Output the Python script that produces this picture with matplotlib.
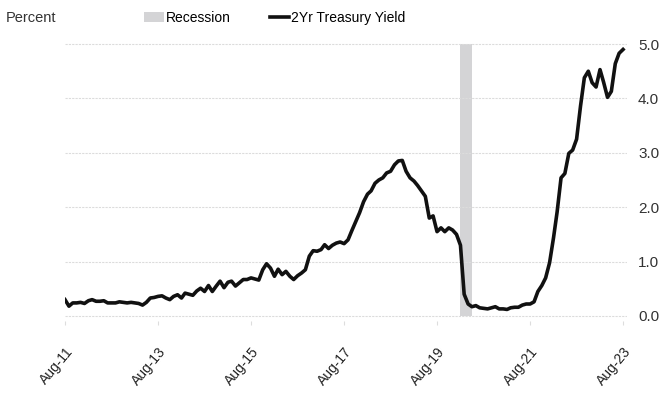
import matplotlib
matplotlib.use("Agg")
import matplotlib.pyplot as plt
from matplotlib.patches import Patch
from matplotlib.lines import Line2D
import pandas as pd

plt.rcParams['font.family'] = ['Liberation Sans', 'DejaVu Sans']

# 2-year Treasury yield, monthly, Aug 2011 - Aug 2023 (percent)
y2011 = [0.30, 0.18, 0.24, 0.24, 0.25]
y2012 = [0.23, 0.28, 0.30, 0.27, 0.27, 0.28, 0.24, 0.24, 0.24, 0.26, 0.25, 0.24]
y2013 = [0.25, 0.24, 0.23, 0.20, 0.25, 0.33, 0.34, 0.36, 0.37, 0.33, 0.30, 0.36]
y2014 = [0.39, 0.33, 0.42, 0.40, 0.38, 0.46, 0.51, 0.45, 0.56, 0.45, 0.55, 0.64]
y2015 = [0.52, 0.62, 0.64, 0.55, 0.61, 0.67, 0.67, 0.70, 0.68, 0.66, 0.85, 0.96]
y2016 = [0.88, 0.73, 0.86, 0.76, 0.82, 0.73, 0.67, 0.74, 0.79, 0.85, 1.10, 1.20]
y2017 = [1.19, 1.22, 1.31, 1.24, 1.30, 1.34, 1.36, 1.33, 1.40, 1.57, 1.74, 1.90]
y2018 = [2.10, 2.24, 2.30, 2.44, 2.50, 2.54, 2.63, 2.66, 2.78, 2.85, 2.86, 2.66]
y2019 = [2.54, 2.48, 2.40, 2.30, 2.20, 1.80, 1.84, 1.55, 1.62, 1.55, 1.62, 1.58]
y2020 = [1.50, 1.30, 0.40, 0.22, 0.17, 0.19, 0.15, 0.14, 0.13, 0.15, 0.17, 0.13]
y2021 = [0.13, 0.12, 0.15, 0.16, 0.16, 0.20, 0.22, 0.22, 0.26, 0.45, 0.56, 0.70]
y2022 = [0.98, 1.44, 1.91, 2.54, 2.62, 2.99, 3.05, 3.25, 3.86, 4.38, 4.50, 4.29]
y2023 = [4.21, 4.53, 4.30, 4.02, 4.13, 4.64, 4.83, 4.90]

yields = y2011 + y2012 + y2013 + y2014 + y2015 + y2016 + y2017 + y2018 + y2019 + y2020 + y2021 + y2022 + y2023
dates = pd.date_range('2011-08-01', periods=len(yields), freq='MS')

rec_start = pd.Timestamp('2020-02-01')
rec_end = pd.Timestamp('2020-04-30')

tick_dates = pd.date_range('2011-08-01', '2023-08-01', freq='24MS')
tick_labels = ['Aug-11', 'Aug-13', 'Aug-15', 'Aug-17', 'Aug-19', 'Aug-21', 'Aug-23']
y_ticks = [0, 1, 2, 3, 4, 5]

fig = plt.figure(figsize=(6.71, 4.0), dpi=100)
ax = fig.add_axes([65 / 671, 0.1965, (627 - 65) / 671, 0.707])

ax.fill_between([rec_start, rec_end], 0, 5, color='#d4d4d6', linewidth=0, zorder=1)
ax.plot(dates, yields, color='#111111', linewidth=2.6, zorder=3, solid_joinstyle='round')

ax.set_xlim(pd.Timestamp('2011-08-01'), pd.Timestamp('2023-09-01'))
ax.set_ylim(-0.1, 5.1)

ax.set_yticks(y_ticks)
ax.set_yticklabels([f'{v:.1f}' for v in y_ticks])
ax.yaxis.tick_right()
ax.tick_params(axis='y', length=0, pad=8, labelsize=11, labelcolor='#333333')
ax.grid(axis='y', color='#dcdcdc', linewidth=0.8, linestyle=(0, (2, 1)), zorder=0)

ax.set_xticks(tick_dates)
ax.set_xticklabels(tick_labels, rotation=50, ha='right', rotation_mode='anchor')
ax.tick_params(axis='x', length=3, color='#dddddd', pad=14, labelsize=10, labelcolor='#222222')

for s in ax.spines.values():
    s.set_visible(False)

fig.text(6 / 671, 1 - 18 / 400, 'Percent', fontsize=10.5, color='#333333', va='center')

handles = [Patch(facecolor='#d4d4d6', edgecolor='none'),
           Line2D([0], [0], color='#111111', linewidth=2.6)]
fig.legend(handles, ['Recession', '2Yr Treasury Yield'], ncol=2, frameon=False,
           loc='center', bbox_to_anchor=(275 / 671, 1 - 18 / 400), fontsize=10,
           handlelength=1.4, handletextpad=0.15, columnspacing=2.8)

fig.savefig('out.png', dpi=100)
